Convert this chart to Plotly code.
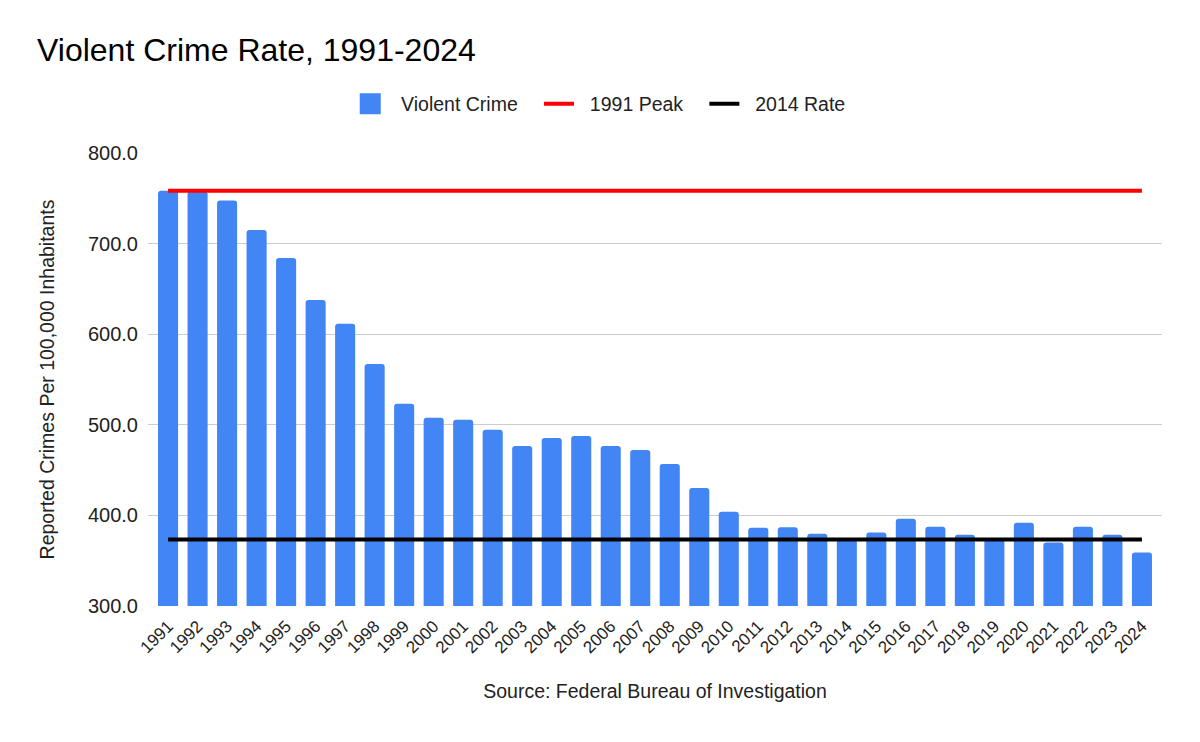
import plotly.graph_objects as go

years = [str(y) for y in range(1991, 2025)]
violent_crime = [
    758.2, 757.7, 747.6, 714.9, 684.0, 637.8, 611.4, 567.0, 523.2, 507.9,
    505.6, 494.6, 476.5, 485.4, 487.6, 476.5, 472.1, 456.7, 430.3, 403.9,
    386.3, 386.9, 379.7, 373.3, 381.0, 396.4, 387.6, 378.7, 374.3, 392.0,
    370.0, 387.6, 378.7, 359.1,
]

peak_1991 = violent_crime[0]
rate_2014 = violent_crime[years.index("2014")]

FONT = "Liberation Sans, Arial, sans-serif"
BLUE = "#4285f4"
NB = "\u00a0"

fig = go.Figure()

fig.add_trace(go.Bar(
    x=years,
    y=violent_crime,
    name="Violent Crime",
    marker=dict(color=BLUE, line=dict(width=0)),
    showlegend=False,
))

# legend entry for the bars (bigger square than plotly's default bar swatch)
fig.add_trace(go.Scatter(
    x=[None], y=[None],
    mode="markers",
    name=NB * 2 + "Violent Crime" + NB * 3,
    marker=dict(symbol="square", size=16, color=BLUE,
                line=dict(color=BLUE, width=6)),
    hoverinfo="skip",
))

fig.add_trace(go.Scatter(
    x=[years[0], years[-1]],
    y=[peak_1991, peak_1991],
    mode="lines",
    name=NB * 2 + "1991 Peak" + NB * 3,
    line=dict(color="#ff0000", width=4),
))

fig.add_trace(go.Scatter(
    x=[years[0], years[-1]],
    y=[rate_2014, rate_2014],
    mode="lines",
    name=NB * 2 + "2014 Rate",
    line=dict(color="#000000", width=4),
))

fig.update_layout(
    width=1184,
    height=726,
    margin=dict(l=140, r=30, t=145, b=128),
    paper_bgcolor="white",
    plot_bgcolor="white",
    font=dict(family=FONT, size=19, color="#222222"),
    title=dict(
        text="Violent Crime Rate, 1991-2024",
        x=0.0245, xanchor="left",
        y=0.942, yanchor="middle",
        font=dict(family=FONT, size=32, color="#000000"),
    ),
    legend=dict(
        orientation="h",
        x=0.446, xanchor="center",
        y=1.108, yanchor="middle",
        font=dict(family=FONT, size=19.5, color="#222222"),
        itemwidth=30,
        itemsizing="trace",
    ),
    bargap=0.32,
    barcornerradius=3,
    xaxis=dict(
        type="category",
        range=[-0.68, len(years) - 0.32],
        tickangle=-45,
        tickfont=dict(family=FONT, size=17, color="#222222"),
        ticklabelstandoff=6,
        showgrid=False,
        showline=False,
        ticks="",
        automargin=False,
        title=dict(
            text="Source: Federal Bureau of Investigation",
            font=dict(family=FONT, size=19.5, color="#222222"),
            standoff=28,
        ),
    ),
    yaxis=dict(
        range=[300, 800],
        dtick=100,
        tickformat=".1f",
        showgrid=True,
        gridcolor="#cccccc",
        gridwidth=1.2,
        zeroline=False,
        showline=False,
        ticks="",
        ticklabelstandoff=9,
        automargin=False,
        tickfont=dict(family=FONT, size=20, color="#222222"),
        title=dict(
            text="Reported Crimes Per 100,000 Inhabitants",
            font=dict(family=FONT, size=19.5, color="#222222"),
            standoff=28,
        ),
    ),
)

fig.write_html("out.html")
